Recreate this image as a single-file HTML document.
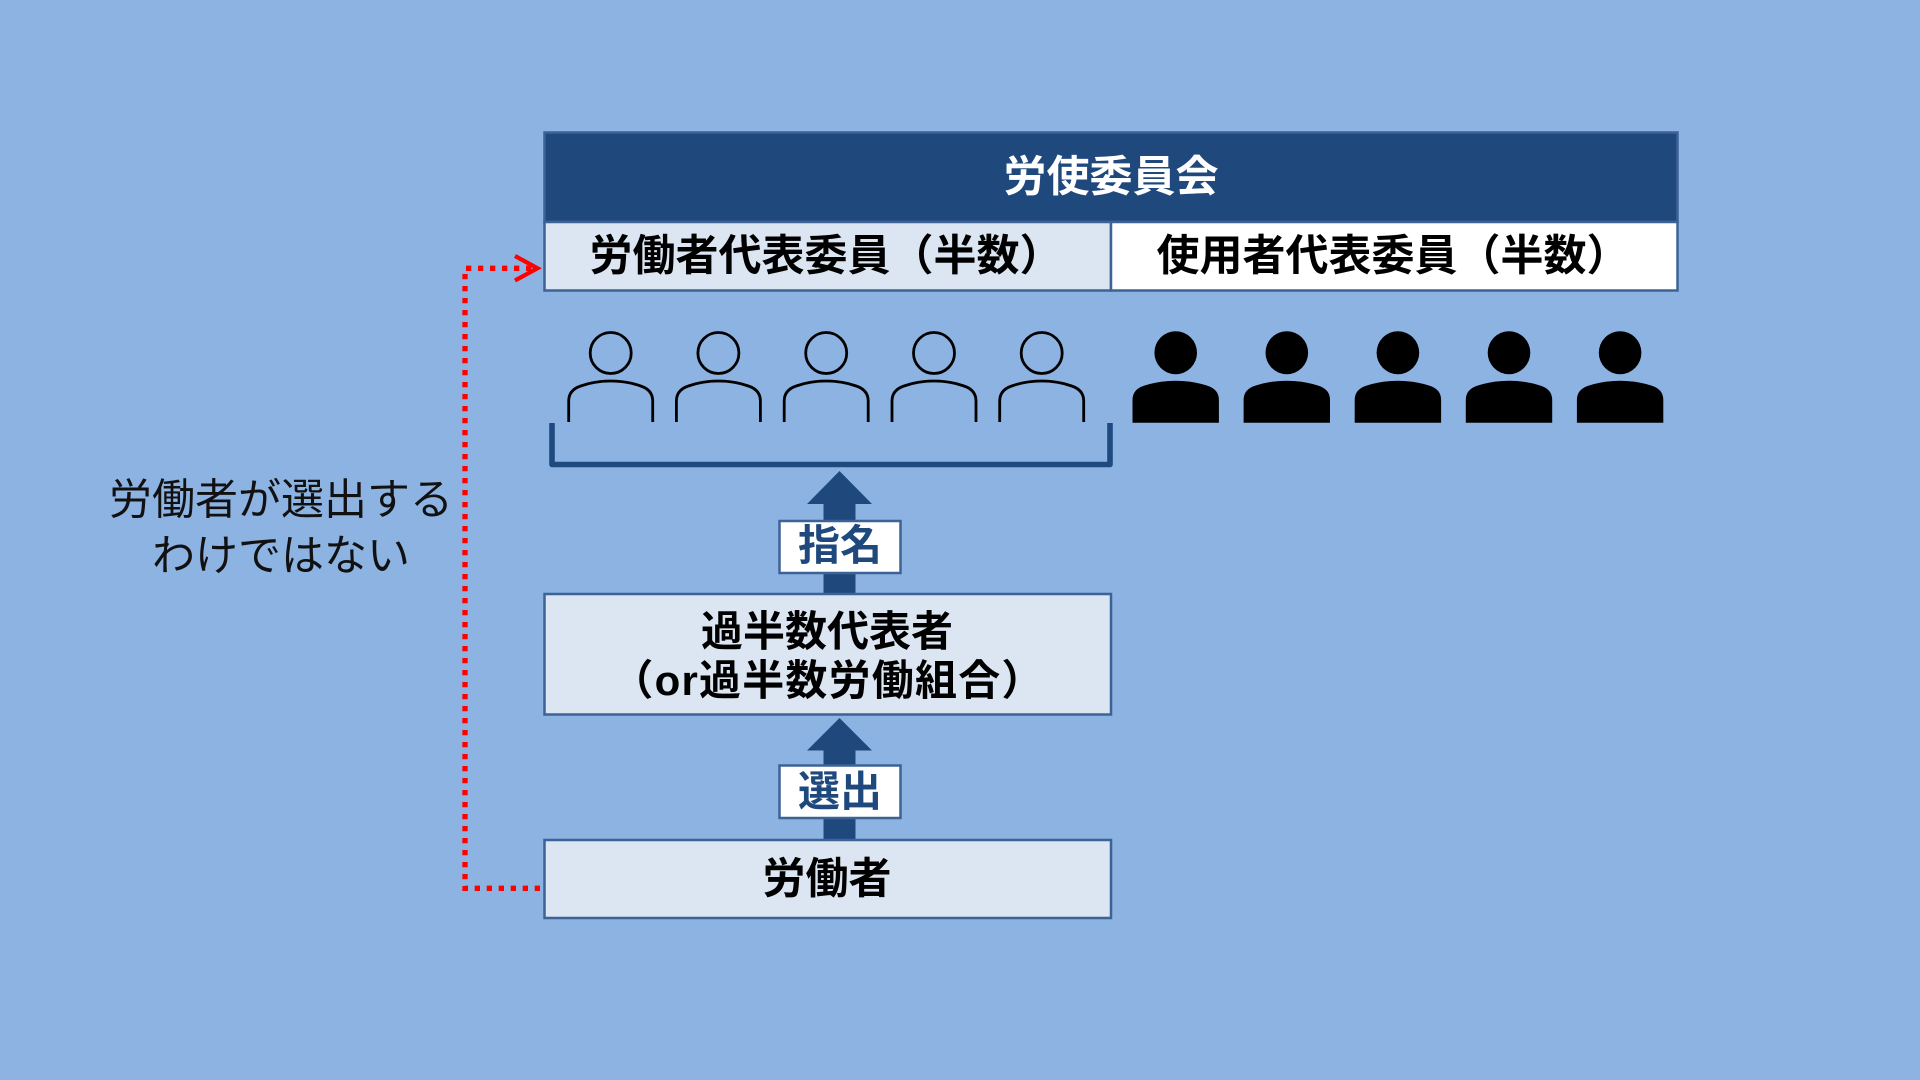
<!DOCTYPE html>
<html>
<head>
<meta charset="utf-8">
<style>
html,body{margin:0;padding:0;background:#8db3e2;}
svg{display:block;}
text{font-family:"Liberation Sans","Noto Sans CJK JP",sans-serif;}
.b{font-weight:700;}
</style>
</head>
<body>
<svg width="1920" height="1080" viewBox="0 0 1920 1080" xmlns="http://www.w3.org/2000/svg">
<rect x="0" y="0" width="1920" height="1080" fill="#8db3e2"/>

<!-- Header -->
<rect x="544.5" y="132.5" width="1133" height="89.5" fill="#1f497d" stroke="#3c6296" stroke-width="2.5"/>
<rect x="544.5" y="222" width="566.5" height="68.5" fill="#dce6f2" stroke="#3c6296" stroke-width="2.5"/>
<rect x="1111" y="222" width="566.5" height="68.5" fill="#ffffff" stroke="#3c6296" stroke-width="2.5"/>
<text class="b" x="1111" y="191.5" font-size="43" fill="#ffffff" text-anchor="middle">労使委員会</text>
<text class="b" x="826" y="270.5" font-size="43" fill="#000" text-anchor="middle">労働者代表委員（半数）</text>
<text class="b" x="1393" y="270.5" font-size="43" fill="#000" text-anchor="middle">使用者代表委員（半数）</text>

<!-- Outline people -->
<g fill="none" stroke="#000" stroke-width="2.8">
  <g transform="translate(610.7,0)">
    <circle cx="0" cy="353" r="20.5"/>
    <path d="M -42 422 V 401 Q -42 390 -30 386 Q -16 381 0 381 Q 16 381 30 386 Q 42 390 42 401 V 422"/>
  </g>
  <g transform="translate(718.4,0)">
    <circle cx="0" cy="353" r="20.5"/>
    <path d="M -42 422 V 401 Q -42 390 -30 386 Q -16 381 0 381 Q 16 381 30 386 Q 42 390 42 401 V 422"/>
  </g>
  <g transform="translate(826.2,0)">
    <circle cx="0" cy="353" r="20.5"/>
    <path d="M -42 422 V 401 Q -42 390 -30 386 Q -16 381 0 381 Q 16 381 30 386 Q 42 390 42 401 V 422"/>
  </g>
  <g transform="translate(934,0)">
    <circle cx="0" cy="353" r="20.5"/>
    <path d="M -42 422 V 401 Q -42 390 -30 386 Q -16 381 0 381 Q 16 381 30 386 Q 42 390 42 401 V 422"/>
  </g>
  <g transform="translate(1041.7,0)">
    <circle cx="0" cy="353" r="20.5"/>
    <path d="M -42 422 V 401 Q -42 390 -30 386 Q -16 381 0 381 Q 16 381 30 386 Q 42 390 42 401 V 422"/>
  </g>
</g>

<!-- Filled people -->
<g fill="#000">
  <g transform="translate(1175.7,0)">
    <ellipse cx="0" cy="352.7" rx="21.3" ry="21.5"/>
    <path d="M -43.2 422.7 V 400 Q -43.2 389 -31 385.5 Q -16 380.7 0 380.7 Q 16 380.7 31 385.5 Q 43.2 389 43.2 400 V 422.7 Z"/>
  </g>
  <g transform="translate(1286.8,0)">
    <ellipse cx="0" cy="352.7" rx="21.3" ry="21.5"/>
    <path d="M -43.2 422.7 V 400 Q -43.2 389 -31 385.5 Q -16 380.7 0 380.7 Q 16 380.7 31 385.5 Q 43.2 389 43.2 400 V 422.7 Z"/>
  </g>
  <g transform="translate(1397.9,0)">
    <ellipse cx="0" cy="352.7" rx="21.3" ry="21.5"/>
    <path d="M -43.2 422.7 V 400 Q -43.2 389 -31 385.5 Q -16 380.7 0 380.7 Q 16 380.7 31 385.5 Q 43.2 389 43.2 400 V 422.7 Z"/>
  </g>
  <g transform="translate(1509,0)">
    <ellipse cx="0" cy="352.7" rx="21.3" ry="21.5"/>
    <path d="M -43.2 422.7 V 400 Q -43.2 389 -31 385.5 Q -16 380.7 0 380.7 Q 16 380.7 31 385.5 Q 43.2 389 43.2 400 V 422.7 Z"/>
  </g>
  <g transform="translate(1620.1,0)">
    <ellipse cx="0" cy="352.7" rx="21.3" ry="21.5"/>
    <path d="M -43.2 422.7 V 400 Q -43.2 389 -31 385.5 Q -16 380.7 0 380.7 Q 16 380.7 31 385.5 Q 43.2 389 43.2 400 V 422.7 Z"/>
  </g>
</g>

<!-- Bracket -->
<path d="M 552 423 V 464.5 H 1110 V 423" fill="none" stroke="#1f4a80" stroke-width="5.6" stroke-linejoin="round"/>

<!-- Arrow 1 (指名) -->
<rect x="823.5" y="500" width="32" height="94" fill="#1f497d"/>
<polygon points="839.5,471 872,504 807,504" fill="#1f497d"/>
<rect x="779.5" y="521" width="121" height="52" fill="#ffffff" stroke="#3c6296" stroke-width="2.5"/>
<text class="b" x="840" y="560" font-size="42" fill="#1f497d" text-anchor="middle">指名</text>

<!-- Box 過半数代表者 -->
<rect x="544.5" y="594" width="566.5" height="120.5" fill="#dce6f2" stroke="#3c6296" stroke-width="2.5"/>
<text class="b" x="827" y="646" font-size="42" fill="#000" text-anchor="middle">過半数代表者</text>
<text class="b" x="828" y="695" font-size="42" fill="#000" text-anchor="middle" letter-spacing="1.2">（or過半数労働組合）</text>

<!-- Arrow 2 (選出) -->
<rect x="823.5" y="746" width="32" height="94" fill="#1f497d"/>
<polygon points="839.5,718 872,750.5 807,750.5" fill="#1f497d"/>
<rect x="779.5" y="765.5" width="121" height="52.5" fill="#ffffff" stroke="#3c6296" stroke-width="2.5"/>
<text class="b" x="840" y="806" font-size="42" fill="#1f497d" text-anchor="middle">選出</text>

<!-- Box 労働者 -->
<rect x="544.5" y="840" width="566.5" height="78" fill="#dce6f2" stroke="#3c6296" stroke-width="2.5"/>
<text class="b" x="827" y="893.5" font-size="43" fill="#000" text-anchor="middle">労働者</text>

<!-- Red dotted connector -->
<path d="M 540 888.3 H 465 V 268.3 H 532" fill="none" stroke="#ff0000" stroke-width="5.3" stroke-dasharray="5.3 6.7"/>
<polyline points="515,256 537.5,268.3 515,280.5" fill="none" stroke="#ff0000" stroke-width="4.2" stroke-linejoin="miter"/>

<!-- Left note -->
<text x="281" y="514.5" font-size="43" fill="#111" text-anchor="middle">労働者が選出する</text>
<text x="281" y="570.5" font-size="43" fill="#111" text-anchor="middle">わけではない</text>
</svg>
</body>
</html>
